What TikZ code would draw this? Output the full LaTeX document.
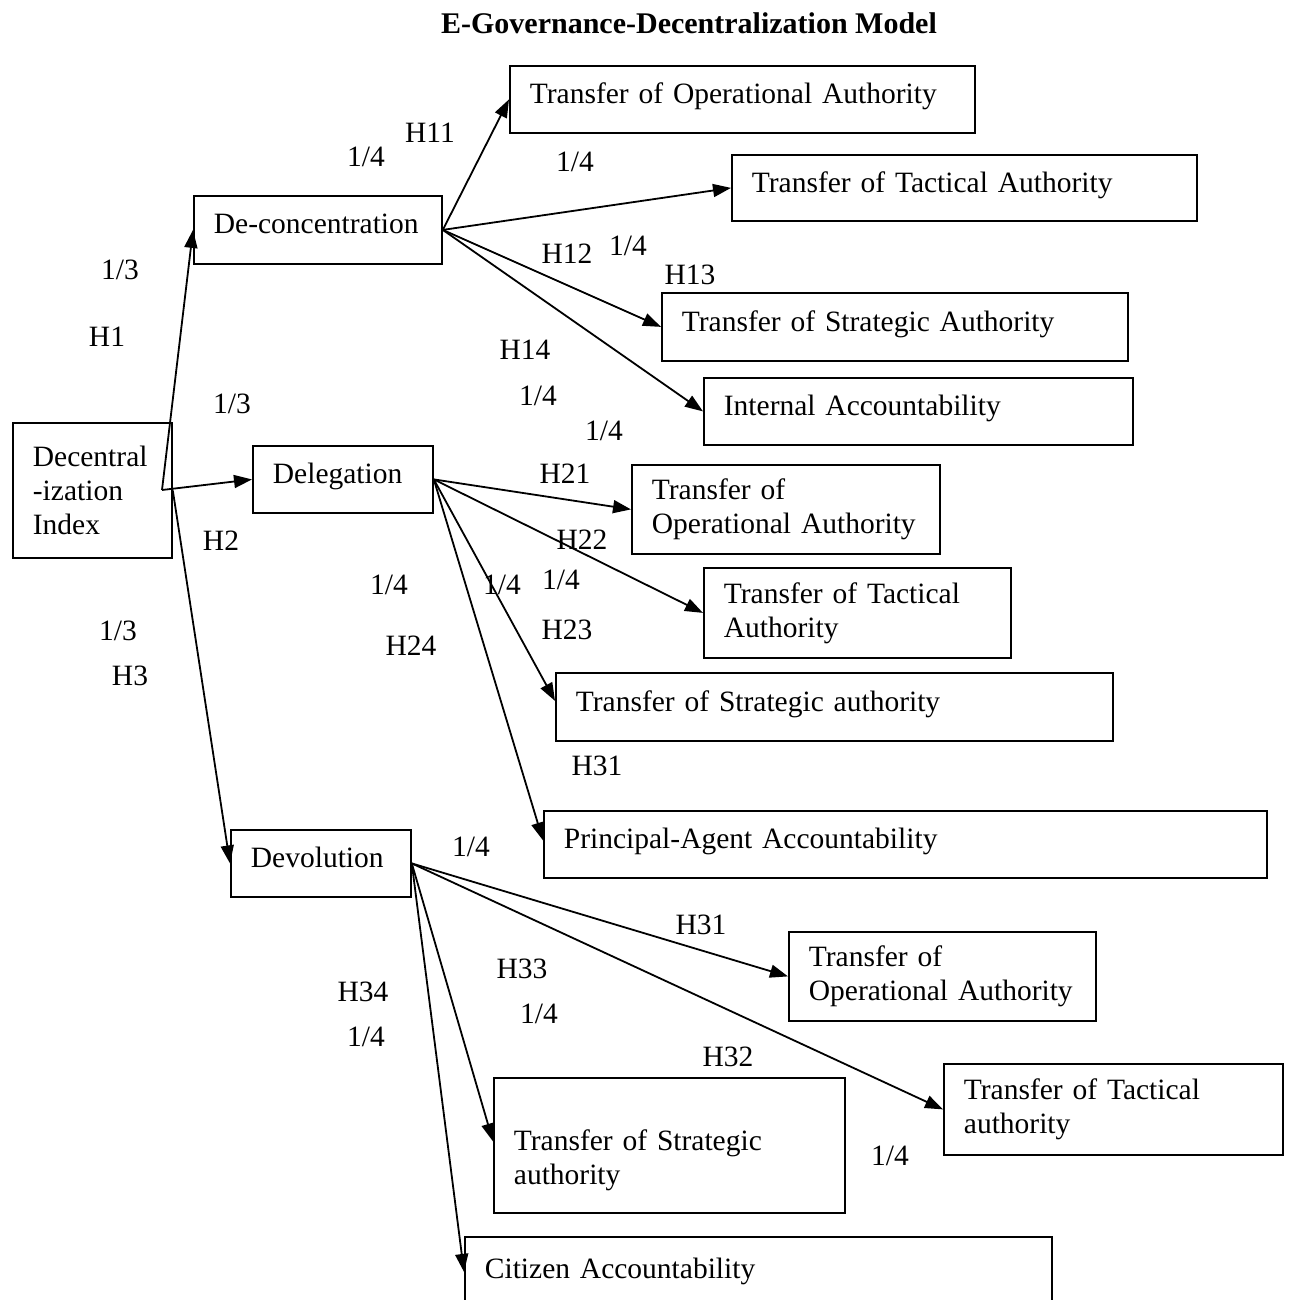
\documentclass[tikz,border=0pt]{standalone}
\usepackage{fontspec}
\setmainfont{Liberation Serif}
\usetikzlibrary{shapes,arrows.meta}
\hyphenpenalty=10000
\exhyphenpenalty=10000

\tikzset{
  box/.style={shape=rectangle,draw=black,fill=white,line width=0.9pt,align=left,inner xsep=10pt,inner ysep=3pt,anchor=north west},
  one/.style={box,text depth=6pt},
  lbl/.style={inner sep=0pt},
  ttl/.style={font=\fontsize{15}{17}\selectfont\bfseries},
  arr/.style={-{Triangle[length=9pt,width=6.5pt]},draw=black,line width=0.9pt},
}

\begin{document}
\begin{tikzpicture}[x=0.5pt,y=-0.5pt,every node/.style={font=\fontsize{14.75}{17}\selectfont}]
\useasboundingbox (0,0) rectangle (1290,1300);

\node[ttl] (0) at (689,23) {E-Governance-Decentralization Model};

% weights and hypotheses
\node[lbl] (w1) at (366,157) {1/4};
\node[lbl] (h11) at (430,133) {H11};
\node[lbl] (w2) at (575,162) {1/4};
\node[lbl] (w3) at (120,270) {1/3};
\node[lbl] (h1) at (107,337) {H1};
\node[lbl] (h12) at (567,254) {H12};
\node[lbl] (w4) at (628,246) {1/4};
\node[lbl] (h13) at (690,275) {H13};
\node[lbl] (h14) at (525,350) {H14};
\node[lbl] (w5) at (538,396) {1/4};
\node[lbl] (w6) at (232,404) {1/3};
\node[lbl] (w7) at (604,431) {1/4};
\node[lbl] (h21) at (565,474) {H21};
\node[lbl] (h2) at (221,541) {H2};
\node[lbl] (h22) at (582,540) {H22};
\node[lbl] (w8) at (389,585) {1/4};
\node[lbl] (w9) at (502,585) {1/4};
\node[lbl] (w10) at (561,580) {1/4};
\node[lbl] (h23) at (567,630) {H23};
\node[lbl] (w11) at (118,631) {1/3};
\node[lbl] (h3) at (130,676) {H3};
\node[lbl] (h24) at (411,646) {H24};
\node[lbl] (h31a) at (597,766) {H31};
\node[lbl] (w12) at (471,847) {1/4};
\node[lbl] (h31b) at (701,925) {H31};
\node[lbl] (h33) at (522,969) {H33};
\node[lbl] (h34) at (363,992) {H34};
\node[lbl] (w13) at (539,1014) {1/4};
\node[lbl] (w14) at (366,1037) {1/4};
\node[lbl] (h32) at (728,1057) {H32};
\node[lbl] (w15) at (890,1156) {1/4};

% boxes
\node[box,text width=59.5pt,minimum height=67.5pt] (1) at (12,422) {Decentral\\-ization\\Index};
\node[one,text width=104pt,minimum height=34pt] (2) at (193,195) {De-concentration};
\node[one,text width=70pt,minimum height=33.5pt] (3) at (252,445) {Delegation};
\node[one,text width=70pt,minimum height=33.5pt] (4) at (230,829) {Devolution};
\node[one,text width=212.5pt,minimum height=33.5pt] (5) at (509,65) {Transfer of Operational Authority};
\node[one,text width=212.5pt,minimum height=33pt] (6) at (731,154) {Transfer of Tactical Authority};
\node[one,text width=213pt,minimum height=34pt] (7) at (661,292) {Transfer of Strategic Authority};
\node[one,text width=194.5pt,minimum height=33.5pt] (8) at (703,377) {Internal Accountability};
\node[box,text width=134pt,minimum height=44.5pt] (9) at (631,464) {Transfer of\\Operational Authority};
\node[box,text width=133.5pt,minimum height=45pt] (10) at (703,567) {Transfer of Tactical\\Authority};
\node[one,text width=258.5pt,minimum height=34pt] (11) at (555,672) {Transfer of Strategic authority};
\node[one,text width=341.5pt,minimum height=33.5pt] (12) at (543,810) {Principal-Agent Accountability};
\node[box,text width=133.5pt,minimum height=44.5pt] (13) at (788,931) {Transfer of\\Operational Authority};
\node[box,text width=149.5pt,minimum height=45.5pt] (14) at (943,1063) {Transfer of Tactical\\authority};
\node[box,text width=155.5pt,minimum height=67.5pt,text height=25pt] (15) at (493,1077) {Transfer of Strategic\\authority};
\node[one,text width=273.5pt,minimum height=37pt] (16) at (464,1236) {Citizen Accountability};

\coordinate (hub) at (162,490);

\draw [arr] (hub) -- (2.west);
\draw [arr] (hub) -- (3.west);
\draw [arr] (1.east) -- (4.west);
\draw [arr] (2.east) -- (5.west);
\draw [arr] (2.east) -- (6.west);
\draw [arr] (2.east) -- (7.west);
\draw [arr] (2.east) -- (8.west);
\draw [arr] (3.east) -- (9.west);
\draw [arr] (3.east) -- (10.west);
\draw [arr] (3.east) -- ([yshift=3pt]11.west);
\draw [arr] (3.east) -- ([yshift=2pt]12.west);
\draw [arr] (4.east) -- (13.west);
\draw [arr] (4.east) -- (14.west);
\draw [arr] (4.east) -- ([yshift=2pt]15.west);
\draw [arr] (4.east) -- ([yshift=1pt]16.west);
\end{tikzpicture}
\end{document}
